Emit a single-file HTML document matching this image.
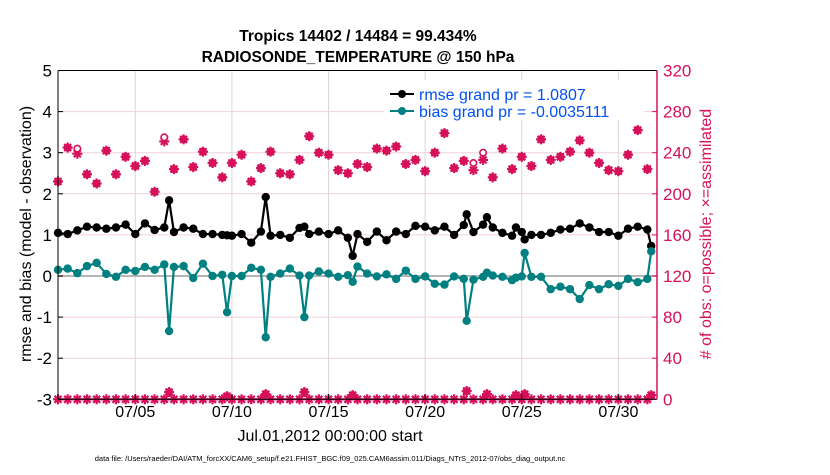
<!DOCTYPE html>
<html><head><meta charset="utf-8"><style>
body{margin:0;background:#fff;width:830px;height:470px;overflow:hidden}
svg{font-family:"Liberation Sans",sans-serif}
</style></head><body>
<svg id="chart" width="830" height="470" viewBox="0 0 830 470">
<g id="grid"></g><g id="series"></g><g id="axes"></g>
<text x="358" y="41" text-anchor="middle" font-size="15.5" font-weight="bold">Tropics 14402 / 14484 = 99.434%</text>
<text x="358" y="62" text-anchor="middle" font-size="15.5" font-weight="bold">RADIOSONDE_TEMPERATURE @ 150 hPa</text>
<text transform="translate(31,234) rotate(-90)" text-anchor="middle" font-size="16">rmse and bias (model - observation)</text>
<text transform="translate(711,234) rotate(-90)" text-anchor="middle" font-size="16" fill="#d6105a"># of obs: o=possible; ×=assimilated</text>
<text x="330" y="441" text-anchor="middle" font-size="16">Jul.01,2012 00:00:00 start</text>
<text x="330" y="461" text-anchor="middle" font-size="7.5">data file: /Users/raeder/DAI/ATM_forcXX/CAM6_setup/f.e21.FHIST_BGC.f09_025.CAM6assim.011/Diags_NTrS_2012-07/obs_diag_output.nc</text>
<g>
<rect x="384" y="80" width="260" height="40" fill="#fff"/>
<line x1="390" y1="94" x2="414" y2="94" stroke="#000" stroke-width="2"/><circle cx="402" cy="94" r="4" fill="#000"/>
<text x="419" y="100" font-size="16" fill="#0050f0">rmse grand pr = 1.0807</text>
<line x1="390" y1="111" x2="414" y2="111" stroke="#008080" stroke-width="2"/><circle cx="402" cy="111" r="4" fill="#008080"/>
<text x="419" y="117" font-size="16" fill="#0050f0">bias grand pr = -0.0035111</text>
</g>
</svg>
<script>
const times=[0,0.5,1,1.5,2,2.5,3,3.5,4,4.5,5,5.5,5.75,6,6.5,7,7.5,8,8.5,8.75,9,9.5,10,10.5,10.75,11,11.5,12,12.5,12.75,13,13.5,14,14.5,15,15.25,15.5,16,16.5,17,17.5,18,18.5,19,19.5,20,20.5,21,21.15,21.5,22,22.2,22.5,23,23.5,23.7,24,24.15,24.5,25,25.5,26,26.5,27,27.5,28,28.5,29,29.5,30,30.5,30.7];
const rmse=[1.05,1.02,1.11,1.20,1.18,1.15,1.18,1.25,1.02,1.28,1.12,1.18,1.84,1.07,1.18,1.15,1.02,1.02,1.00,0.99,0.98,1.02,0.81,1.08,1.92,0.98,1.00,0.93,1.17,1.20,1.02,1.08,1.02,1.11,0.93,0.49,1.02,0.83,1.08,0.87,1.08,1.02,1.22,1.20,1.11,1.20,1.00,1.24,1.50,1.07,1.25,1.43,1.18,1.05,0.98,1.18,1.07,0.89,1.00,1.00,1.05,1.13,1.15,1.28,1.18,1.07,1.07,0.98,1.15,1.20,1.13,0.73];
const bias=[0.15,0.18,0.07,0.24,0.32,0.05,-0.02,0.15,0.12,0.22,0.15,0.28,-1.34,0.22,0.24,-0.05,0.30,0.00,0.03,-0.88,0.00,0.00,0.20,0.15,-1.49,-0.02,0.06,0.18,0.01,-1.00,0.01,0.11,0.06,-0.02,0.02,-0.14,0.23,0.06,-0.01,0.04,-0.07,0.13,-0.07,-0.01,-0.19,-0.21,-0.01,-0.07,-1.09,-0.09,-0.02,0.08,0.01,-0.02,-0.10,-0.04,-0.01,0.56,-0.02,-0.02,-0.32,-0.26,-0.32,-0.56,-0.22,-0.32,-0.20,-0.24,-0.07,-0.15,-0.07,0.60];
const assimilated=[212,245,239,219,210,242,219,236,227,232,202,251,7,224,253,226,241,230,216,3,230,238,212,225,5,241,220,219,233,7,256,240,238,223,220,4,229,226,244,242,246,229,233,222,240,259,225,232,8,223,233,5,216,244,224,4,236,5,227,253,233,236,241,252,240,230,223,222,238,262,224,4];
const possible=[212,245,244,219,210,242,219,236,227,232,202,255,7,224,253,226,241,230,216,3,230,238,212,225,5,241,220,219,233,7,256,240,238,223,220,4,229,226,244,242,246,229,233,222,240,259,225,232,8,230,240,5,216,244,224,4,236,5,227,253,233,236,241,252,240,230,223,222,238,262,224,4];
const otherCounts=[0,0,0,0,0,0,0,0,0,0,0,0,null,0,0,0,0,0,0,null,0,0,0,0,null,0,0,0,0,null,0,0,0,0,0,null,0,0,0,0,0,0,0,0,0,0,0,0,null,0,0,null,0,0,0,null,0,null,0,0,0,0,0,0,0,0,0,0,0,0,0,null];
const yTicks=[5,4,3,2,1,0,-1,-2,-3];
const y2Ticks=[320,280,240,200,160,120,80,40,0];
const xTickDays=[4,9,14,19,24,29];
const xTickLabels=["07/05","07/10","07/15","07/20","07/25","07/30"];

const X0=58,X1=657,Y0=70.5,Y1=399.3,DAYS=31;
const xs=d=>X0+d*(X1-X0)/DAYS;
const ys=v=>Y1-(v+3)*(Y1-Y0)/8;
const ys2=c=>Y1-c*(Y1-Y0)/320;
const NS="http://www.w3.org/2000/svg";
function mk(tag,at,parent){const e=document.createElementNS(NS,tag);for(const k in at)e.setAttribute(k,at[k]);parent.appendChild(e);return e;}
const grid=document.getElementById('grid'),ser=document.getElementById('series'),axes=document.getElementById('axes');
const MAG="#d6105a";

yTicks.forEach(v=>{
  if(v!==5&&v!==-3){const l=mk('line',{x1:X0,x2:X1,y1:ys(v),y2:ys(v),stroke:'#f2d0dc','stroke-width':1},grid);
  
  }
  const t=mk('text',{x:X0-6,y:ys(v)+6,'text-anchor':'end','font-size':17},axes);t.textContent=v;
  
  
  mk('line',{x1:X0,x2:X0+5,y1:ys(v),y2:ys(v),stroke:'#000'},axes);
});
y2Ticks.forEach(c=>{
  const t=mk('text',{x:X1+6,y:ys2(c)+6,'font-size':17,fill:MAG},axes);t.textContent=c;
  
  
  mk('line',{x1:X1-5,x2:X1,y1:ys2(c),y2:ys2(c),stroke:MAG},axes);
});
xTickDays.forEach((d,i)=>{
  const g=mk('line',{x1:xs(d),x2:xs(d),y1:Y0,y2:Y1,stroke:'#d8d8d8','stroke-width':1},grid);
  
  
  mk('line',{x1:xs(d),x2:xs(d),y1:Y1,y2:Y1-5,stroke:'#000'},axes);
  const t=mk('text',{x:xs(d),y:417,'text-anchor':'middle','font-size':16},axes);t.textContent=xTickLabels[i];
  
  
});
const zl=mk('line',{x1:X0,x2:X1,y1:ys(0),y2:ys(0),stroke:'#b4b4b4','stroke-width':2},grid);


mk('line',{x1:X0,x2:X1,y1:Y0,y2:Y0,stroke:'#000'},axes);
mk('line',{x1:X0,x2:X1,y1:Y1,y2:Y1,stroke:'#000'},axes);
mk('line',{x1:X0,x2:X0,y1:Y0,y2:Y1,stroke:'#000'},axes);
mk('line',{x1:X1,x2:X1,y1:Y0,y2:Y1,stroke:MAG,'stroke-width':1.5},axes);

function star(cx,cy){const g=mk('g',{stroke:MAG,'stroke-width':2.2},ser);
  mk('line',{x1:cx-5,x2:cx+5,y1:cy,y2:cy},g);mk('line',{x1:cx,x2:cx,y1:cy-5,y2:cy+5},g);
  mk('line',{x1:cx-3.5,x2:cx+3.5,y1:cy-3.5,y2:cy+3.5},g);mk('line',{x1:cx-3.5,x2:cx+3.5,y1:cy+3.5,y2:cy-3.5},g);
  mk('circle',{cx:cx,cy:cy,r:2.5,fill:MAG,stroke:'none'},g);return g;}
otherCounts.forEach((c,i)=>{if(c===null)return;
  const g=star(xs(times[i]),ys2(c));
  
  });
times.forEach((t,i)=>{
  const g=star(xs(t),ys2(assimilated[i]));
  
  
  const c=mk('circle',{cx:xs(t),cy:ys2(possible[i]),r:3.2,fill:possible[i]!==assimilated[i]?'#fff':'none',stroke:MAG,'stroke-width':1.6},ser);
  
  
});
function line(vals,color,name){
  const p=mk('polyline',{points:times.map((t,i)=>xs(t)+','+ys(vals[i])).join(' '),fill:'none',stroke:color,'stroke-width':2.2},ser);
  
  
  times.forEach((t,i)=>{const c=mk('circle',{cx:xs(t),cy:ys(vals[i]),r:4.2,fill:color},ser);
    
    });
}
line(rmse,'#000','rmse');
line(bias,'#008080','bias');
</script>
</body></html>
